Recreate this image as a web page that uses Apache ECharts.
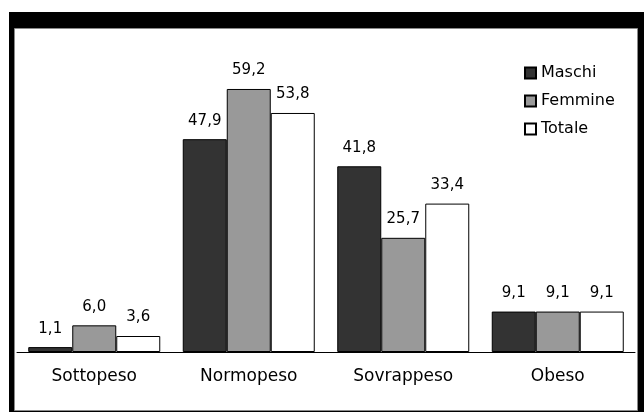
<!DOCTYPE html>
<html lang="it">

<head>
    <meta charset="UTF-8">
    <script src="https://cdn.jsdelivr.net/npm/echarts@6/dist/echarts.min.js"></script>
    <title>Peso</title>
    <style>
        body { margin: 0; background: #fff; }
    </style>
</head>

<body>
    <div id="main" style="width: 644px;height:412px;"></div>
    <script>
        // dati
        var categorie = ['Sottopeso', 'Normopeso', 'Sovrappeso', 'Obeso'];
        var maschi = [1.1, 47.9, 41.8, 9.1];
        var femmine = [6.0, 59.2, 25.7, 9.1];
        var totale = [3.6, 53.8, 33.4, 9.1];

        var font = 'DejaVu Sans';

        function serie(nome, dati, colore) {
            return {
                name: nome,
                type: 'bar',
                data: dati,
                barWidth: 44,
                barGap: '0%',
                itemStyle: { color: colore, borderColor: '#000', borderWidth: 1 },
                label: {
                    show: true,
                    position: 'top',
                    distance: 11,
                    color: '#000',
                    fontFamily: font,
                    fontSize: 15,
                    formatter: function (p) { return p.value.toFixed(1).replace('.', ','); }
                }
            };
        }

        var myChart = echarts.init(document.getElementById('main'));
        var option = {
            animation: false,
            backgroundColor: '#fff',
            graphic: [
                { type: 'rect', z: -10, shape: { x: 9, y: 12, width: 635, height: 400 }, style: { fill: '#000' } },
                { type: 'rect', z: -9, shape: { x: 14.5, y: 28.5, width: 623, height: 382 }, style: { fill: '#fff', stroke: '#8a8a8a', lineWidth: 1 } }
            ],
            legend: {
                orient: 'vertical',
                left: 524,
                top: 64,
                padding: 0,
                itemGap: 10,
                itemWidth: 11,
                itemHeight: 11,
                icon: 'rect',
                textStyle: { color: '#000', fontFamily: font, fontSize: 16, lineHeight: 18 }
            },
            grid: { left: 17, right: 9, top: 41, bottom: 60 },
            xAxis: {
                type: 'category',
                data: categorie,
                axisLine: { lineStyle: { color: '#000', width: 1 } },
                axisTick: { show: false },
                axisLabel: { color: '#000', fontFamily: font, fontSize: 17, margin: 16 }
            },
            yAxis: {
                type: 'value',
                min: 0,
                max: 70,
                show: false,
                splitLine: { show: false }
            },
            series: [
                serie('Maschi', maschi, '#333333'),
                serie('Femmine', femmine, '#999999'),
                serie('Totale', totale, '#ffffff')
            ]
        };
        myChart.setOption(option);
    </script>
</body>

</html>
